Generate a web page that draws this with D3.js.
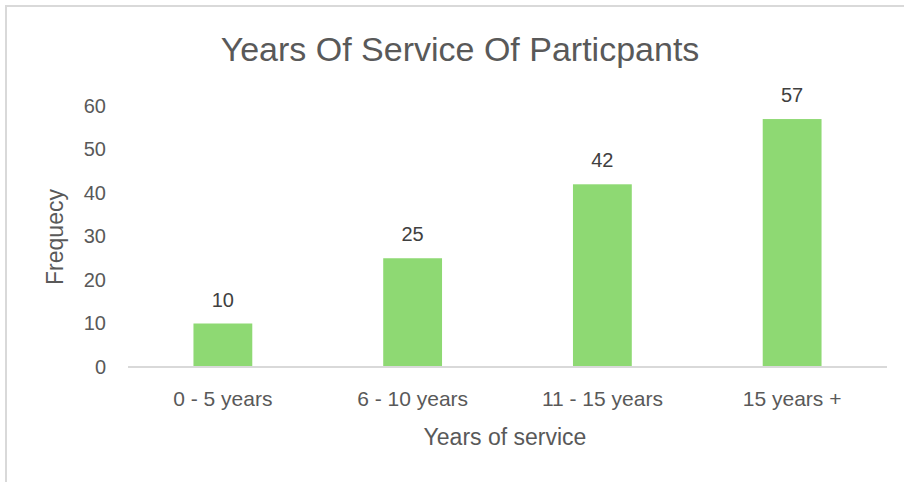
<!DOCTYPE html>
<html>
<head>
<meta charset="utf-8">
<script src="https://cdn.jsdelivr.net/npm/d3@7"></script>
<style>
  html, body { margin: 0; padding: 0; background: #fff; }
  svg { display: block; }
  text { font-family: "Liberation Sans", Arial, sans-serif; }
</style>
</head>
<body>
<svg id="chart" width="904" height="482"></svg>
<script>
// Participants grouped by years of service
const categories = ["0 - 5 years", "6 - 10 years", "11 - 15 years", "15 years +"];
const frequencies = [10, 25, 42, 57];
const yTicks = [0, 10, 20, 30, 40, 50, 60];

const svg = d3.select("#chart");
const W = 904, H = 482;
const FONT = "'Liberation Sans', Arial, sans-serif";

// chart frame (only the left and top edges fall inside the view)
svg.append("rect")
  .attr("x", 6).attr("y", 6)
  .attr("width", W + 10).attr("height", H + 10)
  .attr("fill", "#fff")
  .attr("stroke", "#d9d9d9").attr("stroke-width", 2);

const plot = { left: 128, right: 887, top: 106, bottom: 367 };

const x = d3.scaleBand()
  .domain(categories)
  .range([plot.left, plot.right])
  .paddingInner(0.69)
  .paddingOuter(0.345);

const y = d3.scaleLinear()
  .domain([0, 60])
  .range([plot.bottom, plot.top]);

// title
svg.append("text")
  .attr("x", 460).attr("y", 61)
  .attr("text-anchor", "middle")
  .attr("fill", "#595959")
  .attr("font-size", 34)
  .text("Years Of Service Of Particpants");

// y axis labels
const yAxis = d3.axisLeft(y).tickValues(yTicks).tickSize(0).tickPadding(22);
const gy = svg.append("g").attr("transform", `translate(${plot.left},0)`).call(yAxis);
gy.select(".domain").remove();
gy.selectAll("text")
  .attr("fill", "#595959")
  .attr("font-size", 20)
  .attr("font-family", FONT);

// bars
svg.append("g").selectAll("rect")
  .data(frequencies)
  .join("rect")
  .attr("x", (d, i) => x(categories[i]))
  .attr("y", d => y(d))
  .attr("width", x.bandwidth())
  .attr("height", d => y(0) - y(d))
  .attr("fill", "#8ed973");

// value labels
svg.append("g").selectAll("text")
  .data(frequencies)
  .join("text")
  .attr("x", (d, i) => x(categories[i]) + x.bandwidth() / 2)
  .attr("y", d => y(d) - 17)
  .attr("text-anchor", "middle")
  .attr("fill", "#404040")
  .attr("font-size", 20)
  .text(d => d);

// x axis
const xAxis = d3.axisBottom(x).tickSize(0).tickPadding(24);
const gx = svg.append("g").attr("transform", `translate(0,${plot.bottom})`).call(xAxis);
gx.select(".domain").attr("stroke", "#d9d9d9").attr("stroke-width", 2)
  .attr("d", `M${plot.left},0H${plot.right}`);
gx.selectAll("text")
  .attr("fill", "#595959")
  .attr("font-size", 21)
  .attr("font-family", FONT);

// axis titles
svg.append("text")
  .attr("x", 505).attr("y", 445)
  .attr("text-anchor", "middle")
  .attr("fill", "#595959")
  .attr("font-size", 23)
  .text("Years of service");

svg.append("text")
  .attr("transform", "translate(63,237) rotate(-90)")
  .attr("text-anchor", "middle")
  .attr("fill", "#595959")
  .attr("font-size", 23)
  .text("Frequecy");
</script>
</body>
</html>
